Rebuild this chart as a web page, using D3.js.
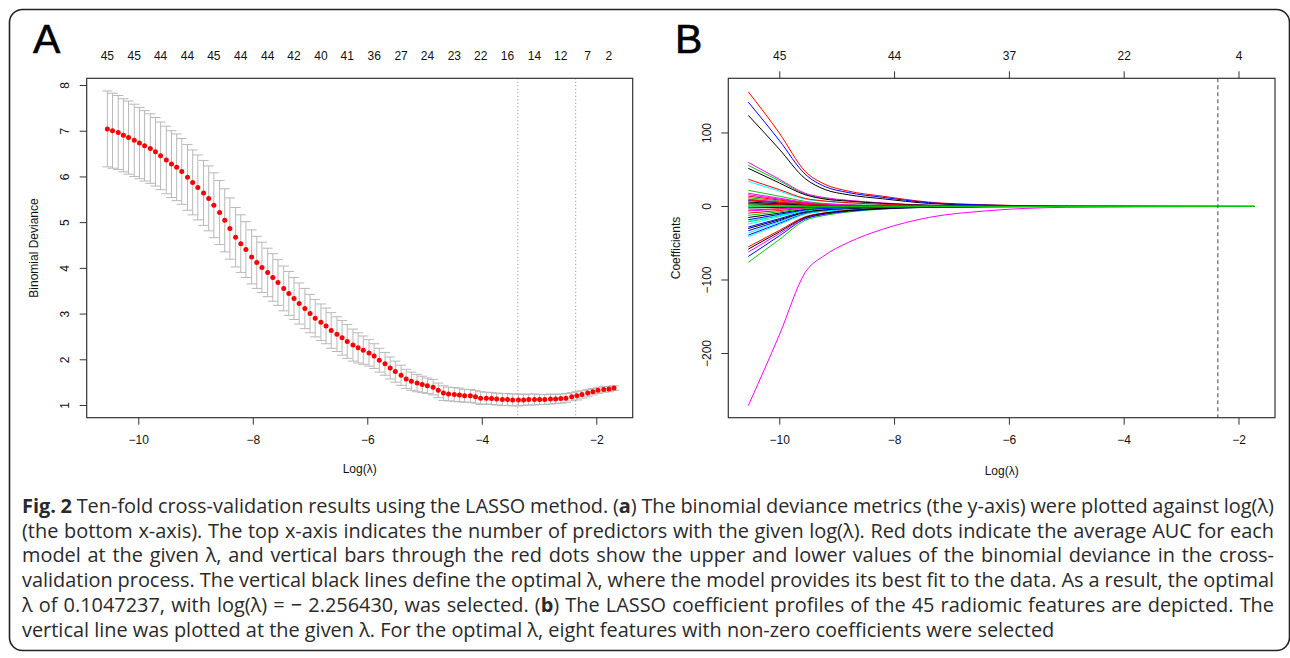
<!DOCTYPE html>
<html><head><meta charset="utf-8">
<script src="https://cdn.jsdelivr.net/npm/d3@7"></script>
<style>
html,body{margin:0;padding:0;background:#fff;}
svg{display:block;}
</style></head>
<body>
<svg id="fig" width="1290" height="658"></svg>
<script>
// ---------- Panel A data (cv.glmnet) ----------
const logLambda = [-10.54,-10.45,-10.35,-10.26,-10.17,-10.07,-9.98,-9.89,-9.79,-9.70,
 -9.61,-9.51,-9.42,-9.33,-9.24,-9.14,-9.05,-8.96,-8.86,-8.77,
 -8.68,-8.58,-8.49,-8.40,-8.30,-8.21,-8.12,-8.02,-7.93,-7.84,
 -7.74,-7.65,-7.56,-7.46,-7.37,-7.28,-7.19,-7.09,-7.00,-6.91,
 -6.81,-6.72,-6.63,-6.53,-6.44,-6.35,-6.25,-6.16,-6.07,-5.97,
 -5.88,-5.79,-5.69,-5.60,-5.51,-5.41,-5.32,-5.23,-5.13,-5.04,
 -4.95,-4.85,-4.76,-4.67,-4.58,-4.48,-4.39,-4.30,-4.20,-4.11,
 -4.02,-3.92,-3.83,-3.74,-3.64,-3.55,-3.46,-3.36,-3.27,-3.18,
 -3.08,-2.99,-2.90,-2.80,-2.71,-2.62,-2.53,-2.43,-2.34,-2.25,
 -2.15,-2.06,-1.97,-1.87,-1.78,-1.69];
const cvMean = [7.04,7.00,6.96,6.90,6.85,6.79,6.73,6.67,6.61,6.54,
 6.45,6.36,6.27,6.20,6.11,5.98,5.87,5.76,5.64,5.52,
 5.37,5.21,5.04,4.86,4.67,4.53,4.40,4.24,4.12,4.01,
 3.90,3.79,3.68,3.55,3.44,3.33,3.22,3.11,3.00,2.90,
 2.81,2.73,2.63,2.55,2.47,2.39,2.31,2.25,2.20,2.14,
 2.07,1.98,1.90,1.81,1.73,1.65,1.57,1.52,1.48,1.45,
 1.42,1.39,1.32,1.26,1.24,1.23,1.22,1.20,1.20,1.18,
 1.15,1.15,1.14,1.13,1.12,1.12,1.11,1.11,1.11,1.12,
 1.12,1.12,1.12,1.13,1.13,1.14,1.15,1.18,1.20,1.23,
 1.26,1.29,1.32,1.34,1.35,1.37];
const cvSE = [0.83,0.82,0.81,0.80,0.80,0.79,0.78,0.77,0.76,0.75,
 0.74,0.74,0.73,0.73,0.72,0.72,0.71,0.71,0.71,0.71,
 0.71,0.70,0.69,0.67,0.65,0.63,0.61,0.59,0.57,0.55,
 0.53,0.52,0.50,0.49,0.48,0.46,0.45,0.44,0.42,0.41,
 0.40,0.39,0.39,0.38,0.38,0.37,0.35,0.33,0.31,0.29,
 0.27,0.26,0.25,0.24,0.23,0.22,0.21,0.20,0.19,0.18,
 0.17,0.17,0.16,0.16,0.15,0.15,0.15,0.14,0.14,0.14,
 0.14,0.13,0.13,0.13,0.13,0.13,0.13,0.13,0.12,0.12,
 0.12,0.11,0.11,0.11,0.10,0.10,0.10,0.09,0.09,0.08,
 0.08,0.07,0.07,0.06,0.06,0.05];
const nzLabels = [45,45,44,44,45,44,44,42,40,41,36,27,24,23,22,16,14,12,7,2];
const nzLabelIdx = [0,5,10,15,20,25,30,35,40,45,50,55,60,65,70,75,80,85,90,94];
const lambdaMin = -3.37;
const lambda1se = -2.36;
const yTicksA = [1,2,3,4,5,6,7,8];
const xTicks = [-10,-8,-6,-4,-2];

// ---------- Panel B data (coefficient paths) ----------
const coefKnots = [-10.54,-10.0,-9.55,-9.2,-8.8,-8.2,-7.4,-6.4,-5.0,-1.72];
const coefPaths = [
 [124,78,38,23,16,10.5,4.2,1.6,0.2,0],
 [156,100,48,30,21,14,6,2.3,0.4,0],
 [56,35,17,11,8,4.5,1.7,0.6,0.1,0],
 [142,90,44,27,19,12.5,5.2,2,0.3,0],
 [34,21,10,7,4.8,2.7,1,0.3,0,0],
 [60,37,18,12,8.4,4.8,1.8,0.6,0.1,0],
 [52,32,16,10,7.3,4.2,1.6,0.5,0.1,0],
 [37,23,11,7.4,5.2,3,1.1,0.4,0,0],
 [22,14,7,4,2.5,1.2,0.4,0,0,0],
 [-28,-16.6,-7,-4,-2.5,-1.2,-0.4,0,0,0],
 [-24,-14,-6,-3.5,-2,-1,-0.3,0,0,0],
 [-271,-175,-90,-66,-49,-31,-15,-6,-1.2,0],
 [3.6,2.2,1,0.5,0.3,0.1,0,0,0,0],
 [4.5,2.8,1.3,0.7,0.4,0.1,0,0,0,0],
 [-21,-12.5,-5.5,-3.2,-1.8,-0.8,-0.2,0,0,0],
 [-33,-19.6,-8.5,-5,-3,-1.5,-0.5,0,0,0],
 [-36,-21,-9,-5.5,-3.3,-1.6,-0.5,0,0,0],
 [-62,-37,-16,-10,-6,-3,-1,-0.3,0,0],
 [-15,-9,-4,-2.3,-1.3,-0.5,0,0,0,0],
 [-9,-5.5,-2.5,-1.4,-0.8,-0.3,0,0,0,0],
 [-76,-45,-19,-12,-7.5,-3.5,-1.2,-0.4,0,0],
 [-39,-23,-10,-6,-3.6,-1.8,-0.6,0,0,0],
 [-41,-24.4,-10.5,-6.3,-3.8,-1.9,-0.6,0,0,0],
 [16,10,5,3,1.8,0.9,0.3,0,0,0],
 [-30,-18,-8,-4.6,-2.8,-1.4,-0.4,0,0,0],
 [-55,-32.6,-14,-8.5,-5.2,-2.6,-0.9,-0.2,0,0],
 [12,7.5,3.8,2.2,1.3,0.6,0.2,0,0,0],
 [-68,-40,-17,-10.5,-6.5,-3.2,-1.1,-0.3,0,0],
 [1,0.6,0.3,0.2,0.1,0,0,0,0,0],
 [10,6.3,3.2,1.8,1.1,0.5,0.1,0,0,0],
 [-58,-34.6,-15,-9,-5.5,-2.7,-0.9,-0.2,0,0],
 [14,8.8,4.4,2.6,1.5,0.7,0.2,0,0,0],
 [-12,-7.2,-3.2,-1.8,-1,-0.4,0,0,0,0],
 [8,5,2.5,1.4,0.8,0.3,0,0,0,0],
 [-20,-12,-5.2,-3,-1.7,-0.7,-0.2,0,0,0],
 [18,11.3,5.7,3.4,2,1,0.3,0,0,0],
 [6,3.8,1.9,1.1,0.6,0.2,0,0,0,0],
 [-5,-3,-1.3,-0.7,-0.4,-0.1,0,0,0,0],
 [2,1.2,0.6,0.3,0.2,0,0,0,0,0],
 [-18,-10.7,-4.7,-2.7,-1.5,-0.6,-0.2,0,0,0],
 [-1,-0.6,-0.3,-0.2,-0.1,0,0,0,0,0],
 [-6,-3.6,-1.6,-0.9,-0.5,-0.2,0,0,0,0],
 [-2,-1.2,-0.5,-0.3,-0.2,0,0,0,0,0],
 [9,5.7,2.9,1.7,1,0.4,0.1,0,0,0],
 [0.5,0.4,0.2,0.1,0.1,0.1,0,0,0,0]
];
const topLabelsB = [45,44,37,22,4];
const yTicksB = [-200,-100,0,100];
const pathColors = ["#000000","#FF0000","#00CD00","#0000FF","#00FFFF","#FF00FF"];

// ---------- Caption ----------
const captionLines = [
 [["Fig. 2",true],[" Ten-fold cross-validation results using the LASSO method. (",false],["a",true],[") The binomial deviance metrics (the y-axis) were plotted against log(λ)",false]],
 [["(the bottom x-axis). The top x-axis indicates the number of predictors with the given log(λ). Red dots indicate the average AUC for each",false]],
 [["model at the given λ, and vertical bars through the red dots show the upper and lower values of the binomial deviance in the cross-",false]],
 [["validation process. The vertical black lines define the optimal λ, where the model provides its best fit to the data. As a result, the optimal",false]],
 [["λ of 0.1047237, with log(λ) = − 2.256430, was selected. (",false],["b",true],[") The LASSO coefficient profiles of the 45 radiomic features are depicted. The",false]],
 [["vertical line was plotted at the given λ. For the optimal λ, eight features with non-zero coefficients were selected",false]]
];

const svg = d3.select("#fig");
const axisFont = "'Liberation Sans', Arial, Helvetica, sans-serif";
const ink = "#111";
const boxCol = "#333";

// outer frame
svg.append("rect").attr("x",9.5).attr("y",9.5).attr("width",1280).attr("height",641)
  .attr("rx",13).attr("fill","none").attr("stroke","#222").attr("stroke-width",1.6);

function styleAxis(g){
  g.select(".domain").attr("stroke",boxCol);
  g.selectAll(".tick line").attr("stroke",boxCol);
  g.selectAll("text").attr("font-family",axisFont).attr("font-size",12).attr("fill",ink);
}

// ================= Panel A =================
const A = {l:86.7, r:632.7, t:78.3, b:417.7};
const xA = d3.scaleLinear().domain([-10.901,-1.364]).range([A.l,A.r]);
const yA = d3.scaleLinear().domain([0.722,8.147]).range([A.b,A.t]);
const gA = svg.append("g");

// error bars
const barw = 0.01*(d3.max(logLambda)-d3.min(logLambda));
const eb = gA.append("g").attr("stroke","#b8b8b8").attr("stroke-width",1).attr("fill","none");
logLambda.forEach((l,i)=>{
  const up = cvMean[i]+cvSE[i], lo = cvMean[i]-cvSE[i];
  eb.append("line").attr("x1",xA(l)).attr("x2",xA(l)).attr("y1",yA(up)).attr("y2",yA(lo));
  eb.append("line").attr("x1",xA(l-barw)).attr("x2",xA(l+barw)).attr("y1",yA(up)).attr("y2",yA(up));
  eb.append("line").attr("x1",xA(l-barw)).attr("x2",xA(l+barw)).attr("y1",yA(lo)).attr("y2",yA(lo));
});
// dots
gA.append("g").selectAll("circle").data(logLambda).join("circle")
  .attr("cx",d=>xA(d)).attr("cy",(d,i)=>yA(cvMean[i])).attr("r",2.5).attr("fill","#FF0000");
// dotted vertical lines
[lambdaMin,lambda1se].forEach(v=>{
  gA.append("line").attr("x1",xA(v)).attr("x2",xA(v)).attr("y1",A.t).attr("y2",A.b)
    .attr("stroke","#888").attr("stroke-width",1).attr("stroke-dasharray","1,2.5");
});
// box
gA.append("rect").attr("x",A.l).attr("y",A.t).attr("width",A.r-A.l).attr("height",A.b-A.t)
  .attr("fill","none").attr("stroke",boxCol).attr("stroke-width",1.2);
// bottom axis
const axAb = gA.append("g").attr("transform",`translate(0,${A.b})`)
  .call(d3.axisBottom(xA).tickValues(xTicks).tickSize(7).tickSizeOuter(0));
styleAxis(axAb);
axAb.select(".domain").remove();
axAb.selectAll("text").attr("y",22.5).attr("dy","0.35em");
// left axis
const axAl = gA.append("g").attr("transform",`translate(${A.l},0)`)
  .call(d3.axisLeft(yA).tickValues(yTicksA).tickSize(7).tickSizeOuter(0).tickFormat(d3.format("d")));
styleAxis(axAl);
axAl.select(".domain").remove();
axAl.selectAll("text").attr("x",0).attr("dy","0.35em").attr("text-anchor","middle")
  .attr("transform","translate(-21.5,0) rotate(-90)");
// top labels (no ticks)
gA.append("g").selectAll("text").data(nzLabelIdx).join("text")
  .attr("x",d=>xA(logLambda[d])).attr("y",56).attr("dy","0.35em").attr("text-anchor","middle")
  .attr("font-family",axisFont).attr("font-size",12).attr("fill",ink)
  .text((d,i)=>nzLabels[i]);
// titles
gA.append("text").attr("x",(A.l+A.r)/2).attr("y",469).attr("dy","0.35em").attr("text-anchor","middle")
  .attr("font-family",axisFont).attr("font-size",12).attr("fill",ink).text("Log(λ)");
gA.append("text").attr("transform",`translate(34,${(A.t+A.b)/2}) rotate(-90)`).attr("dy","0.35em")
  .attr("text-anchor","middle").attr("font-family",axisFont).attr("font-size",12).attr("fill",ink)
  .text("Binomial Deviance");
gA.append("text").attr("x",33).attr("y",53).attr("font-family",axisFont).attr("font-size",41)
  .attr("fill","#000").attr("stroke","#000").attr("stroke-width",0.6).text("A");

// ================= Panel B =================
const B = {l:728.3, r:1275, t:78.3, b:417.7};
const xB = d3.scaleLinear().domain([-10.888,-1.364]).range([B.l,B.r]);
const yB = d3.scaleLinear().domain([-288,173.7]).range([B.b,B.t]);
const gB = svg.append("g");
const line = d3.line().x(d=>xB(d[0])).y(d=>yB(d[1])).curve(d3.curveMonotoneX);
// shifted half a pixel so the zero-level lines sit on one pixel row
gB.append("g").attr("transform","translate(0,0.5)").selectAll("path").data(coefPaths).join("path")
  .attr("d",row=>line(row.map((v,j)=>[coefKnots[j],v])))
  .attr("fill","none").attr("stroke",(d,i)=>pathColors[i%pathColors.length]).attr("stroke-width",1);
gB.append("line").attr("x1",xB(lambda1se)).attr("x2",xB(lambda1se)).attr("y1",B.t).attr("y2",B.b)
  .attr("stroke","#555").attr("stroke-width",1.1).attr("stroke-dasharray","4,3");
gB.append("rect").attr("x",B.l).attr("y",B.t).attr("width",B.r-B.l).attr("height",B.b-B.t)
  .attr("fill","none").attr("stroke",boxCol).attr("stroke-width",1.2);
const axBb = gB.append("g").attr("transform",`translate(0,${B.b})`)
  .call(d3.axisBottom(xB).tickValues(xTicks).tickSize(7).tickSizeOuter(0));
styleAxis(axBb); axBb.select(".domain").remove();
axBb.selectAll("text").attr("y",22.5).attr("dy","0.35em");
const axBt = gB.append("g").attr("transform",`translate(0,${B.t})`)
  .call(d3.axisTop(xB).tickValues(xTicks).tickSize(7).tickSizeOuter(0).tickFormat((d,i)=>topLabelsB[i]));
styleAxis(axBt); axBt.select(".domain").remove();
axBt.selectAll("text").attr("y",-22.3).attr("dy","0.35em");
const axBl = gB.append("g").attr("transform",`translate(${B.l},0)`)
  .call(d3.axisLeft(yB).tickValues(yTicksB).tickSize(7).tickSizeOuter(0).tickFormat(d3.format("d")));
styleAxis(axBl); axBl.select(".domain").remove();
axBl.selectAll("text").attr("x",0).attr("dy","0.35em").attr("text-anchor","middle")
  .attr("transform","translate(-21.5,0) rotate(-90)");
gB.append("text").attr("x",(B.l+B.r)/2).attr("y",471).attr("dy","0.35em").attr("text-anchor","middle")
  .attr("font-family",axisFont).attr("font-size",12).attr("fill",ink).text("Log(λ)");
gB.append("text").attr("transform",`translate(676,${(B.t+B.b)/2}) rotate(-90)`).attr("dy","0.35em")
  .attr("text-anchor","middle").attr("font-family",axisFont).attr("font-size",12).attr("fill",ink)
  .text("Coefficients");
gB.append("text").attr("x",675).attr("y",53).attr("font-family",axisFont).attr("font-size",41)
  .attr("fill","#000").attr("stroke","#000").attr("stroke-width",0.6).text("B");

// ================= Caption =================
const capX0 = 22, capX1 = 1274, capY0 = 513, capDy = 24.7;
const capG = svg.append("g").attr("font-family","'Open Sans', 'Noto Sans', sans-serif").attr("fill","#2a2a2a");
let fs = 16;
const texts = captionLines.map((segs,i)=>{
  const t = capG.append("text").attr("x",capX0).attr("y",capY0+i*capDy).attr("font-size",fs)
    .style("white-space","pre");
  segs.forEach(([s,b])=>t.append("tspan").attr("font-weight",b?"bold":"normal").text(s));
  return t;
});
// fit font size to the last (unjustified) line width
const lastW = texts[texts.length-1].node().getComputedTextLength();
fs = fs*1033/lastW;
texts.forEach(t=>t.attr("font-size",fs));
texts.forEach((t,i)=>{
  if(i===texts.length-1) return;
  const w = t.node().getComputedTextLength();
  const full = captionLines[i].map(s=>s[0]).join("");
  const nSp = (full.match(/ /g)||[]).length;
  t.style("word-spacing",((capX1-capX0-w)/nSp)+"px");
});
</script>
</body></html>
